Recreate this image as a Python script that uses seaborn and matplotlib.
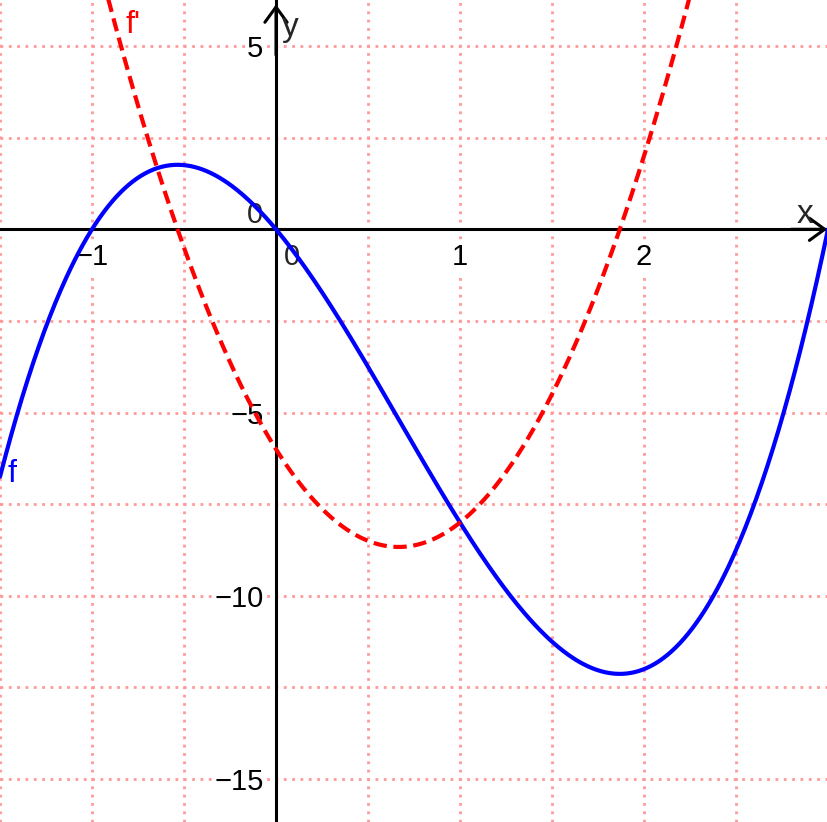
import numpy as np
import pandas as pd
import matplotlib
matplotlib.use("Agg")
import matplotlib.pyplot as plt
from matplotlib.ticker import FixedLocator, MultipleLocator
import seaborn as sns

# --- data ---
# f is a cubic with roots at -1, 0 and 3, leading coefficient 2
f_roots = [-1.0, 0.0, 3.0]
f_lead = [2.0]
x_range = [-1.5, 3.0]
y_range = [-16.17, 6.255]
x_tick_vals = [-1, 1, 2]
y_tick_vals = [-15, -10, -5, 5]
x_grid_step = [0.5]
y_grid_step = [2.5]
curve_labels = ["f", "f'"]

sns.set_style("white")
plt.rcParams["font.family"] = ["Liberation Sans", "DejaVu Sans"]

coef = f_lead[0] * np.poly(f_roots)
dcoef = np.polyder(coef)
xs = np.linspace(x_range[0], x_range[1], 600)
df = pd.DataFrame({"x": np.concatenate([xs, xs]),
                   "y": np.concatenate([np.polyval(coef, xs), np.polyval(dcoef, xs)]),
                   "fn": [curve_labels[0]] * len(xs) + [curve_labels[1]] * len(xs)})

fig = plt.figure(figsize=(8.28, 8.22), dpi=100)
ax = fig.add_axes([0, 0, 1, 1])

sns.lineplot(data=df[df.fn == "f"], x="x", y="y", color="#0000ff", lw=3, ax=ax,
             sort=False, zorder=3)
sns.lineplot(data=df[df.fn == "f'"], x="x", y="y", color="#ff0000", lw=3, ax=ax,
             sort=False, zorder=3, dashes=False)
ax.lines[-1].set_dashes((3.2, 1.6))

ax.set_xlim(*x_range)
ax.set_ylim(*y_range)
ax.set_xlabel("")
ax.set_ylabel("")

# grid every 0.5 / 2.5
ax.xaxis.set_minor_locator(MultipleLocator(x_grid_step[0]))
ax.yaxis.set_minor_locator(MultipleLocator(y_grid_step[0]))
ax.xaxis.set_major_locator(FixedLocator(x_tick_vals))
ax.yaxis.set_major_locator(FixedLocator(y_tick_vals))
ax.grid(True, which="both", color="#ff9999", lw=2.0, linestyle=(0, (1, 2)))
ax.set_axisbelow(True)

for s in ["top", "right"]:
    ax.spines[s].set_visible(False)
ax.spines["left"].set_position(("data", 0))
ax.spines["bottom"].set_position(("data", 0))
for s in ["left", "bottom"]:
    ax.spines[s].set_linewidth(2.2)
    ax.spines[s].set_color("black")
    ax.spines[s].set_zorder(1)

ax.tick_params(which="minor", length=0)
ax.tick_params(which="major", direction="out", length=4, width=2.2, color="black",
               labelsize=21, labelcolor="black")
ax.tick_params(axis="x", which="major", pad=6)
ax.tick_params(axis="y", which="major", pad=5)
for t in ax.xaxis.get_major_ticks() + ax.yaxis.get_major_ticks():
    t.label1.set_bbox(dict(facecolor="white", edgecolor="none", pad=1))

# zero labels
ax.text(0.045, -0.76, "0", fontsize=21, ha="left", va="center", zorder=1,
        bbox=dict(facecolor="white", edgecolor="none", pad=1))
ax.text(-0.07, 0.39, "0", fontsize=21, ha="right", va="center", zorder=1,
        bbox=dict(facecolor="white", edgecolor="none", pad=1))

# axis arrows
ax.annotate("", xy=(x_range[1] - 0.004, 0), xytext=(x_range[1] - 0.2, 0),
            arrowprops=dict(arrowstyle="->,head_length=0.55,head_width=0.4",
                            lw=2.2, color="black", mutation_scale=20,
                            shrinkA=0, shrinkB=0), zorder=1)
ax.annotate("", xy=(0, y_range[1] - 0.12), xytext=(0, y_range[1] - 1.5),
            arrowprops=dict(arrowstyle="->,head_length=0.55,head_width=0.4",
                            lw=2.2, color="black", mutation_scale=20,
                            shrinkA=0, shrinkB=0), zorder=1)

# axis names
ax.text(2.875, 0.17, "x", fontsize=24, ha="center", va="baseline")
ax.text(0.033, 5.27, "y", fontsize=24, ha="left", va="baseline")

# curve labels
ax.text(-1.457, -6.90, curve_labels[0], fontsize=23, color="#0000ff",
        ha="left", va="baseline")
ax.text(-0.82, 5.35, curve_labels[1], fontsize=23, color="#ff0000",
        ha="left", va="baseline")

fig.savefig("out.png", dpi=100)
